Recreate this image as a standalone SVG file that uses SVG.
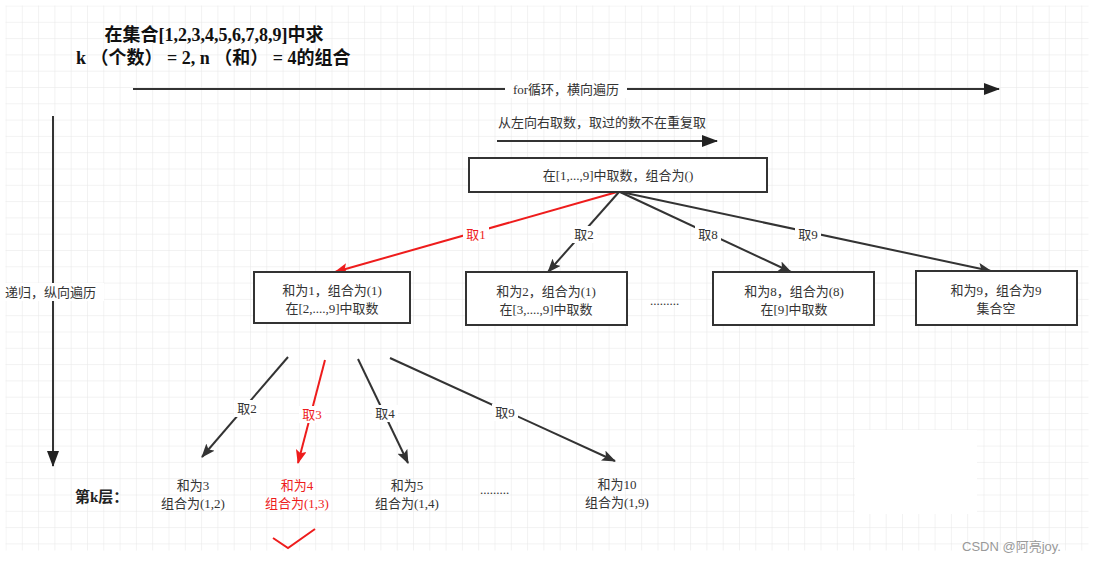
<svg xmlns="http://www.w3.org/2000/svg" width="1093" height="563" viewBox="0 0 1093 563">
<defs>
<pattern id="grid" x="5.5" y="5.5" width="16.3" height="16.3" patternUnits="userSpaceOnUse">
<path d="M0 0H16.3M0 0V16.3" fill="none" stroke="#e6e6e6" stroke-width="1"/>
</pattern>
<marker id="ah" viewBox="0 0 14 11" refX="13" refY="5.5" markerWidth="14" markerHeight="11" markerUnits="userSpaceOnUse" orient="auto">
<path d="M0 0L14 5.5L0 11L3 5.5Z" fill="#333"/>
</marker>
<marker id="ahr" viewBox="0 0 14 11" refX="13" refY="5.5" markerWidth="14" markerHeight="11" markerUnits="userSpaceOnUse" orient="auto">
<path d="M0 0L14 5.5L0 11L3 5.5Z" fill="#ee1c1c"/>
</marker>
<marker id="ahb" viewBox="0 0 16 12" refX="15" refY="6" markerWidth="16" markerHeight="12" markerUnits="userSpaceOnUse" orient="auto">
<path d="M0 0L16 6L0 12Z" fill="#222"/>
</marker>
</defs>
<style>
text{font-family:"Liberation Serif","Noto Sans CJK SC",serif;font-size:13px;fill:#333;}
.c{text-anchor:middle;}
.title{font-size:18px;font-weight:bold;fill:#111;}
.red{fill:#ee1c1c;}
.box{fill:#fff;stroke:#333;stroke-width:2;}
.ln{fill:none;stroke:#333;stroke-width:2;}
.lr{fill:none;stroke:#ee1c1c;stroke-width:2;}
.bg{fill:#fff;}
.wm{font-family:"Liberation Sans","Noto Sans CJK SC",sans-serif;font-size:13px;fill:#999;}
</style>
<rect width="1093" height="563" fill="#fff"/>
<rect x="5.5" y="5.5" width="1083" height="545" fill="url(#grid)"/>
<rect x="855" y="430" width="122" height="84" fill="#fff"/>

<g id="title">
<text class="title c" x="214" y="41">在集合[1,2,3,4,5,6,7,8,9]中求</text>
<text class="title" x="76" y="64">k （个数） = 2, n （和） = 4的组合</text>
</g>

<g id="connectors">
<line class="ln" x1="133" y1="89" x2="999" y2="89" stroke="#222" marker-end="url(#ahb)"/>
<rect class="bg" x="505" y="80" width="122" height="18"/>
<text class="c" x="566" y="94">for循环，横向遍历</text>

<line class="ln" x1="53" y1="116" x2="53" y2="466" stroke="#222" marker-end="url(#ahb)"/>
<rect class="bg" x="4" y="283" width="100" height="18"/>
<text x="5" y="297">递归，纵向遍历</text>

<text x="498" y="127">从左向右取数，取过的数不在重复取</text>
<line class="ln" x1="497" y1="141" x2="717" y2="141" stroke="#222" marker-end="url(#ahb)"/>

<line class="lr" x1="617" y1="192" x2="335" y2="272" marker-end="url(#ahr)"/>
<line class="ln" x1="619" y1="192" x2="548" y2="272" marker-end="url(#ah)"/>
<line class="ln" x1="620" y1="192" x2="791" y2="272" marker-end="url(#ah)"/>
<line class="ln" x1="621" y1="192" x2="991" y2="271" marker-end="url(#ah)"/>
<rect class="bg" x="463" y="226" width="26" height="17"/>
<text class="c red" x="476" y="239">取1</text>
<rect class="bg" x="571" y="226" width="26" height="17"/>
<text class="c" x="584" y="239">取2</text>
<rect class="bg" x="695" y="226" width="26" height="17"/>
<text class="c" x="708" y="239">取8</text>
<rect class="bg" x="795" y="226" width="26" height="17"/>
<text class="c" x="808" y="239">取9</text>

<line class="ln" x1="288" y1="357" x2="202" y2="457" marker-end="url(#ah)"/>
<line class="lr" x1="325" y1="360" x2="298" y2="463" marker-end="url(#ahr)"/>
<line class="ln" x1="358" y1="359" x2="408" y2="463" marker-end="url(#ah)"/>
<line class="ln" x1="390" y1="358" x2="615" y2="461" marker-end="url(#ah)"/>
<rect class="bg" x="234" y="400" width="26" height="17"/>
<text class="c" x="247" y="413">取2</text>
<rect class="bg" x="299" y="406" width="26" height="17"/>
<text class="c red" x="312" y="419">取3</text>
<rect class="bg" x="372" y="405" width="26" height="17"/>
<text class="c" x="385" y="418">取4</text>
<rect class="bg" x="492" y="404" width="26" height="17"/>
<text class="c" x="505" y="417">取9</text>
</g>

<g id="root">
<rect class="box" x="469" y="158" width="298" height="34"/>
<text class="c" x="618" y="180">在[1,...,9]中取数，组合为()</text>
</g>

<g id="n1">
<rect class="box" x="254" y="272" width="156" height="51"/>
<text class="c" x="332" y="295">和为1，组合为(1)</text>
<text class="c" x="332" y="313">在[2,....,9]中取数</text>
</g>
<g id="n2">
<rect class="box" x="466" y="272" width="161" height="53"/>
<text class="c" x="546" y="296">和为2，组合为(1)</text>
<text class="c" x="546" y="314">在[3,....,9]中取数</text>
</g>
<g id="dots1"><text x="650" y="305">.........</text></g>
<g id="n8">
<rect class="box" x="713" y="272" width="161" height="53"/>
<text class="c" x="794" y="296">和为8，组合为(8)</text>
<text class="c" x="794" y="314">在[9]中取数</text>
</g>
<g id="n9">
<rect class="box" x="916" y="271" width="161" height="54"/>
<text class="c" x="996" y="295">和为9，组合为9</text>
<text class="c" x="996" y="313">集合空</text>
</g>

<g id="layerk">
<text x="75" y="502" style="font-weight:bold;font-size:15px;fill:#222">第k层：</text>
</g>
<g id="l2a">
<text class="c" x="193" y="490">和为3</text>
<text class="c" x="193" y="508">组合为(1,2)</text>
</g>
<g id="l2b">
<text class="c red" x="297" y="490">和为4</text>
<text class="c red" x="297" y="508">组合为(1,3)</text>
</g>
<g id="l2c">
<text class="c" x="407" y="490">和为5</text>
<text class="c" x="407" y="508">组合为(1,4)</text>
</g>
<g id="dots2"><text x="480" y="494">.........</text></g>
<g id="l2d">
<text class="c" x="617" y="489">和为10</text>
<text class="c" x="617" y="507">组合为(1,9)</text>
</g>
<g id="check">
<polyline points="273,538 288,548 315,529" fill="none" stroke="#ee1c1c" stroke-width="2"/>
</g>
<text class="wm" x="962" y="551">CSDN @阿亮joy.</text>
</svg>
